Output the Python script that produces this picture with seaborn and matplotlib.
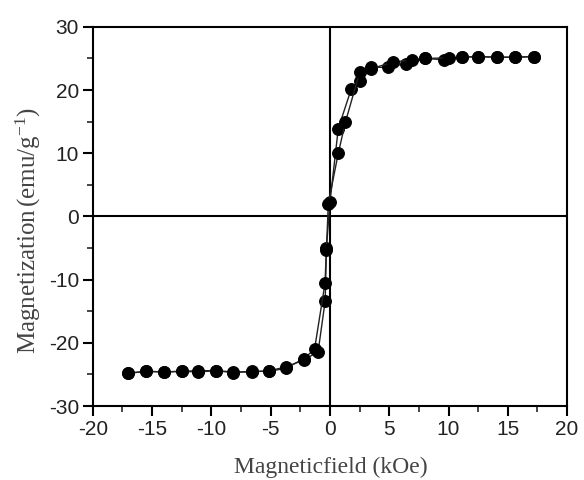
import numpy as np
import pandas as pd
import matplotlib
matplotlib.use("Agg")
import matplotlib.pyplot as plt
import seaborn as sns
from matplotlib.ticker import MultipleLocator

sns.set_style("ticks")
plt.rcParams['font.family'] = ['Liberation Sans', 'DejaVu Sans']
plt.rcParams['mathtext.fontset'] = 'custom'
plt.rcParams['mathtext.rm'] = 'Liberation Serif'
plt.rcParams['mathtext.it'] = 'Liberation Serif:italic'

# Decreasing-field branch
x_down = [17.2, 15.6, 14.1, 12.5, 11.1, 9.6, 8.0, 6.4, 4.9, 3.5, 2.5, 1.8, 0.7, 0.0,
          -0.3, -0.4, -1.0, -2.2, -3.7, -5.1, -6.6, -8.2, -9.6, -11.1, -12.5, -14.0, -15.5, -17.0]
y_down = [25.3, 25.2, 25.2, 25.3, 25.2, 24.8, 25.0, 24.2, 23.6, 23.6, 21.5, 20.2, 13.9, 2.3,
          -5.0, -13.3, -21.4, -22.7, -23.8, -24.4, -24.6, -24.6, -24.4, -24.6, -24.5, -24.6, -24.5, -24.8]
# Increasing-field branch
x_up = [-17.0, -15.5, -14.0, -12.5, -11.1, -9.6, -8.2, -6.6, -5.1, -3.7, -2.2, -1.3, -0.42,
        -0.3, -0.14, 0.7, 1.3, 2.5, 3.5, 5.3, 6.9, 8.0, 10.0, 11.1, 12.5, 14.1, 15.6, 17.2]
y_up = [-24.8, -24.5, -24.6, -24.5, -24.4, -24.4, -24.7, -24.5, -24.5, -24.0, -22.5, -21.0, -10.6,
        -5.3, 2.0, 10.0, 14.9, 22.8, 23.4, 24.4, 24.8, 25.0, 25.1, 25.2, 25.3, 25.2, 25.2, 25.3]

x_ticks = [-20, -15, -10, -5, 0, 5, 10, 15, 20]
y_ticks = [-30, -20, -10, 0, 10, 20, 30]

fig = plt.figure(figsize=(5.84, 4.80), dpi=100)
ax = fig.add_axes([0.159, 0.154, 0.812, 0.790])

for xs, ys in [(x_down, y_down), (x_up, y_up)]:
    sns.lineplot(x=xs, y=ys, sort=False, estimator=None, ax=ax, color='#222222',
                 linewidth=1.0, marker='o', markersize=8.5, markeredgecolor='black',
                 markerfacecolor='black')

ax.axhline(0, color='black', linewidth=1.5, zorder=0)
ax.axvline(0, color='black', linewidth=1.5, zorder=0)

ax.set_xlim(-20, 20)
ax.set_ylim(-30, 30)
ax.set_xticks(x_ticks)
ax.set_yticks(y_ticks)
ax.set_xticklabels([str(v) for v in x_ticks])
ax.set_yticklabels([str(v) for v in y_ticks])
ax.xaxis.set_minor_locator(MultipleLocator(2.5))
ax.yaxis.set_minor_locator(MultipleLocator(5))
ax.tick_params(which='major', direction='out', length=7, width=1.5, labelsize=15,
               colors='black', labelcolor='#222222', pad=3)
ax.tick_params(which='minor', direction='out', length=4, width=1.2)
ax.tick_params(top=False, right=False, which='both')
for s in ax.spines.values():
    s.set_linewidth(1.5)
    s.set_color('black')

ax.set_xlabel('Magneticfield (kOe)', family='Liberation Serif', fontsize=17, color='#444444')
ax.set_ylabel(r'Magnetization$\,$(emu/g$^{-1}$)', family='Liberation Serif', fontsize=18, color='#444444')
ax.xaxis.set_label_coords(0.502, -0.135)
ax.yaxis.set_label_coords(-0.105, 0.464)

fig.savefig('out.png', dpi=100)
